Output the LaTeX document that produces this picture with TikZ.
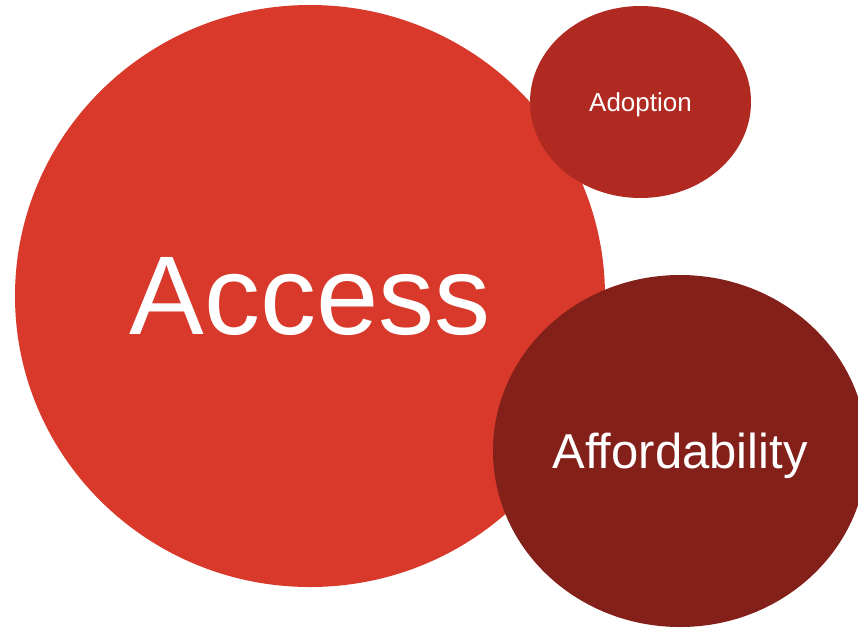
\documentclass[tikz,border=0pt]{standalone}
\usepackage{fontspec}
\setmainfont{Liberation Sans}
\usepackage{tikz}
\usetikzlibrary{shapes.geometric}
\definecolor{accessred}{HTML}{D8392B}
\definecolor{adoptred}{HTML}{B02A21}
\definecolor{affordred}{HTML}{84201A}
\begin{document}
\begin{tikzpicture}[x=1pt,y=-1pt]
\tikzstyle{bubble}=[ellipse,inner sep=0pt,text=white,text depth=0pt,draw=none]
\clip (0,0) rectangle (858,627);
\node[bubble,fill=accessred,minimum width=590pt,minimum height=582pt,font=\fontsize{112}{112}\selectfont] at(310, 296) (access) {Access};
\node[bubble,fill=adoptred,minimum width=221pt,minimum height=192pt,font=\fontsize{26}{26}\selectfont] at(640.5, 102) (adoption) {Adoption};
\node[bubble,fill=affordred,minimum width=374pt,minimum height=352pt,font=\fontsize{49}{49}\selectfont] at(680, 451) (afford) {Affordability};
\end{tikzpicture}
\end{document}
